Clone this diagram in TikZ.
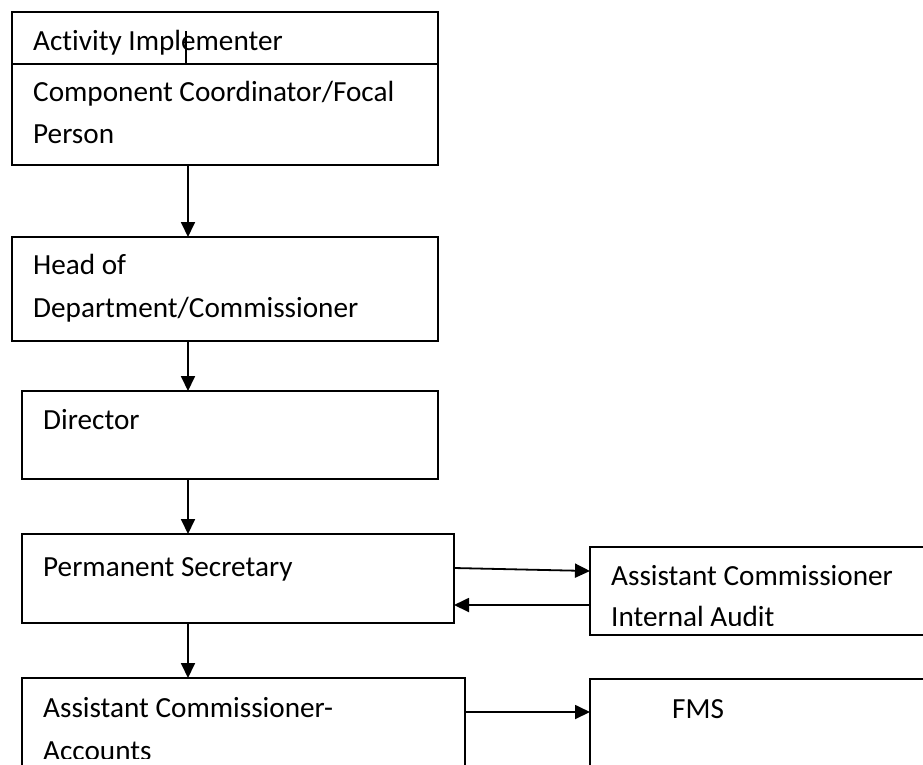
\documentclass[tikz,border=0pt]{standalone}
\usepackage{fontspec}
\setmainfont{Carlito}[Ligatures=NoCommon]
\usetikzlibrary{arrows.meta}
\begin{document}
\begin{tikzpicture}[x=1pt,y=-1pt,
  box/.style={draw=black,line width=1.8pt,rectangle,anchor=north west,inner sep=0pt,outer sep=0pt},
  lbl/.style={anchor=base west,inner sep=0pt,font=\fontsize{29.2}{34}\selectfont},
  arr/.style={line width=1.8pt,-{Triangle[length=15pt,width=14pt]}},
  ln/.style={line width=1.8pt}]
\useasboundingbox (0,0) rectangle (923,764);
\clip (0,0) rectangle (923,764);
\fill[white] (0,0) rectangle (923,764);
% boxes
\node[box,minimum width=426pt,minimum height=52pt] (ai) at (12,12) {};
\node[box,minimum width=426pt,minimum height=101pt] (cc) at (12,64) {};
\node[box,minimum width=426pt,minimum height=104pt] (head) at (12,237) {};
\node[box,minimum width=416pt,minimum height=88pt] (dir) at (22,391) {};
\node[box,minimum width=432pt,minimum height=89pt] (ps) at (22,534) {};
\node[box,minimum width=443pt,minimum height=130pt] (aca) at (22,678) {};
\node[box,minimum width=400pt,minimum height=88pt] (ia) at (590,547) {};
\node[box,minimum width=400pt,minimum height=130pt] (fms) at (590,679) {};
% texts
\node[lbl] (t1) at (33,50) {Activity Implementer};
\node[lbl] (t2) at (33,101) {Component Coordinator/Focal};
\node[lbl] (t3) at (33,143) {Person};
\node[lbl] (t4) at (33,274) {Head of};
\node[lbl] (t5) at (33,317) {Department/Commissioner};
\node[lbl] (t6) at (43,429) {Director};
\node[lbl] (t7) at (43,576) {Permanent Secretary};
\node[lbl] (t8) at (43,717) {Assistant Commissioner-};
\begin{scope}
\clip (22,678) rectangle (465,758);
\node[lbl] (t9) at (43,760.5) {Accounts};
\end{scope}
\node[lbl] (t10) at (611,585) {Assistant Commissioner};
\begin{scope}
\clip (590,547) rectangle (923,625);
\node[lbl] (t11) at (611,626.5) {Internal Audit};
\end{scope}
\node[lbl] (t12) at (672,718) {FMS};
% connectors
\coordinate (spine) at (188,0);
\coordinate (tick) at (186,31);
\draw[ln] (tick) -- (ai.south -| tick);
\draw[arr] (cc.south -| spine) -- (head.north -| spine);
\draw[arr] (head.south -| spine) -- (dir.north -| spine);
\draw[arr] (dir.south -| spine) -- (ps.north -| spine);
\draw[arr] (ps.south -| spine) -- (aca.north -| spine);
\draw[arr] (ps.east |- 0,568) -- (ia.west |- 0,571);
\draw[arr] (ia.west |- 0,605) -- (ps.east |- 0,605);
\draw[arr] (aca.east |- 0,712) -- (fms.west |- 0,712);
\end{tikzpicture}
\end{document}
